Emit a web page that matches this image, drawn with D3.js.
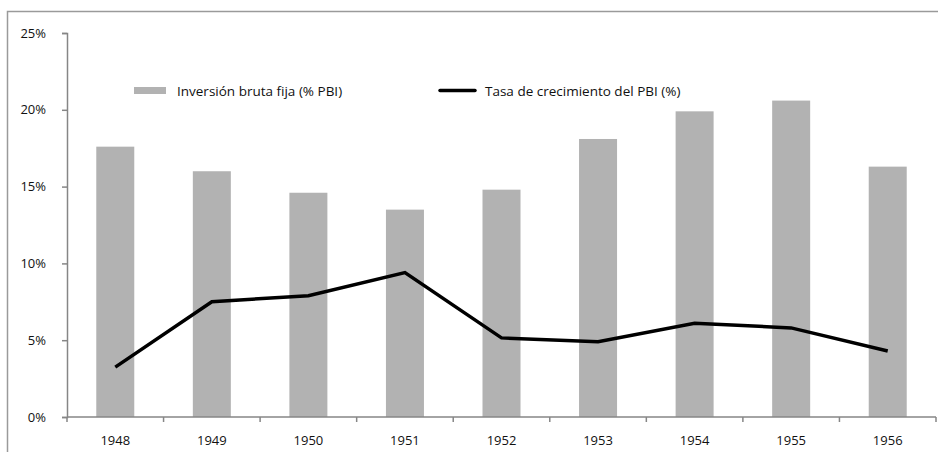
<!DOCTYPE html>
<html>
<head>
<meta charset="utf-8">
<script src="https://cdn.jsdelivr.net/npm/d3@7"></script>
<style>
  body { margin: 0; background: #fff; }
  svg { display: block; font-family: "Open Sans", sans-serif; }
</style>
</head>
<body>
<svg id="canvas" width="938" height="452"></svg>
<script>
let years = ['1948', '1949', '1950', '1951', '1952', '1953', '1954', '1955', '1956']
let inversion = [17.6, 16.0, 14.6, 13.5, 14.8, 18.1, 19.9, 20.6, 16.3]
let crecimiento = [3.25, 7.5, 7.9, 9.4, 5.15, 4.9, 6.1, 5.8, 4.3]
let yTicks = [0, 5, 10, 15, 20, 25]
let seriesNames = ['Inversión bruta fija (% PBI)', 'Tasa de crecimiento del PBI (%)']

let canvas = d3.select('#canvas')
let axisColor = '#868686'
let barColor = '#b2b2b2'

// frame: only top and left edges are visible
canvas.append('path')
  .attr('d', 'M7.5,452 V11.5 H938')
  .attr('fill', 'none')
  .attr('stroke', '#9a9a9a')
  .attr('stroke-width', 1.5)

let xCat = d3.scaleBand()
  .domain(years)
  .range([67, 936])

let y = d3.scaleLinear()
  .domain([0, 25])
  .range([417, 33])

// bars
canvas.selectAll('rect.bar')
  .data(years)
  .enter()
  .append('rect')
  .attr('class', 'bar')
  .attr('x', (d) => xCat(d) + xCat.bandwidth() / 2 - 19)
  .attr('width', 38)
  .attr('y', (d, i) => y(inversion[i]))
  .attr('height', (d, i) => y(0) - y(inversion[i]))
  .attr('fill', barColor)

// y axis
let yAxis = canvas.append('g')
  .attr('transform', 'translate(67,0)')
  .call(d3.axisLeft(y).tickValues(yTicks).tickFormat((d) => d + '%').tickSize(5).tickPadding(16))
yAxis.select('.domain').attr('stroke', axisColor).attr('stroke-width', 1.5)
yAxis.selectAll('.tick line').attr('stroke', axisColor).attr('stroke-width', 1.5)
yAxis.selectAll('.tick text').attr('font-size', 13).attr('fill', '#111')
  .attr('font-family', '"Open Sans", sans-serif')

// x axis with ticks between categories
let xAxis = canvas.append('g')
  .attr('transform', 'translate(0,417)')
xAxis.append('line')
  .attr('x1', 67).attr('x2', 936)
  .attr('stroke', axisColor).attr('stroke-width', 1.5)
xAxis.selectAll('line.tk')
  .data(years.concat(['end']))
  .enter()
  .append('line')
  .attr('class', 'tk')
  .attr('x1', (d, i) => i < years.length ? xCat(d) : 936)
  .attr('x2', (d, i) => i < years.length ? xCat(d) : 936)
  .attr('y1', 0).attr('y2', 5)
  .attr('stroke', axisColor).attr('stroke-width', 1.5)
xAxis.selectAll('text')
  .data(years)
  .enter()
  .append('text')
  .attr('x', (d) => xCat(d) + xCat.bandwidth() / 2)
  .attr('y', 28)
  .attr('text-anchor', 'middle')
  .attr('font-size', 13)
  .attr('fill', '#111')
  .text((d) => d)

// line
let line = d3.line()
  .x((d, i) => xCat(years[i]) + xCat.bandwidth() / 2)
  .y((d) => y(d))
canvas.append('path')
  .datum(crecimiento)
  .attr('d', line)
  .attr('fill', 'none')
  .attr('stroke', '#000')
  .attr('stroke-width', 3.5)
  .attr('stroke-linejoin', 'miter')

// legend
let legend = canvas.append('g')
legend.append('rect')
  .attr('x', 134).attr('y', 87).attr('width', 32).attr('height', 7)
  .attr('fill', barColor)
legend.append('text')
  .attr('x', 177).attr('y', 95.5)
  .attr('font-size', 13.5)
  .attr('fill', '#111')
  .text(seriesNames[0])
legend.append('line')
  .attr('x1', 440).attr('x2', 475).attr('y1', 90.5).attr('y2', 90.5)
  .attr('stroke', '#000').attr('stroke-width', 3.5).attr('stroke-linecap', 'round')
legend.append('text')
  .attr('x', 485).attr('y', 95.5)
  .attr('font-size', 13.5)
  .attr('fill', '#111')
  .text(seriesNames[1])
</script>
</body>
</html>
